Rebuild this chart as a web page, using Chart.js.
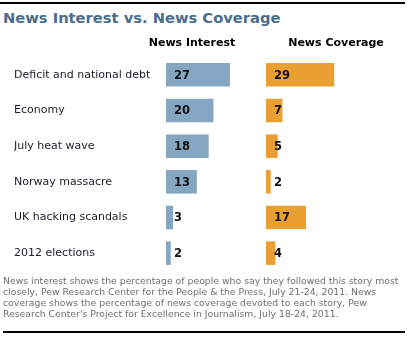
<!DOCTYPE html>
<html>
<head>
<meta charset="utf-8">
<script src="https://cdn.jsdelivr.net/npm/chart.js@4.4.0/dist/chart.umd.min.js"></script>
<style>
  html, body { margin: 0; padding: 0; background: #fff; }
  #wrap { position: relative; width: 408px; height: 337px; overflow: hidden; }
  #chart { position: absolute; left: 0; top: 0; }
  .rule { position: absolute; height: 2px; background: #000; }
  #heading {
    position: absolute; left: 3px; top: 9px; margin: 0;
    font: bold 14.7px "DejaVu Sans", Verdana, sans-serif; color: #4b6d8d;
    white-space: nowrap;
  }
  #note {
    position: absolute; left: 3px; top: 275px; margin: 0;
    font: 9.3px "DejaVu Sans", Verdana, sans-serif; line-height: 11px; color: #6f6f6f;
    white-space: nowrap;
  }
</style>
</head>
<body>
<div id="wrap">
  <div class="rule" style="left:0;top:2px;width:405px"></div>
  <h1 id="heading">News Interest vs. News Coverage</h1>
  <canvas id="chart" width="408" height="337"></canvas>
  <p id="note">News interest shows the percentage of people who say they followed this story most<br>closely, Pew Research Center for the People &amp; the Press, July 21-24, 2011. News<br>coverage shows the percentage of news coverage devoted to each story, Pew<br>Research Center's Project for Excellence in Journalism, July 18-24, 2011.</p>
  <div class="rule" style="left:3px;top:331px;width:402px"></div>
</div>
<script>
const stories = ['Deficit and national debt', 'Economy', 'July heat wave', 'Norway massacre', 'UK hacking scandals', '2012 elections'];
const newsInterest = [27, 20, 18, 13, 3, 2];
const newsCoverage = [29, 7, 5, 2, 17, 4];
const columnTitles = ['News Interest', 'News Coverage'];

const fontFamily = '"DejaVu Sans", Verdana, sans-serif';

// column headings above each set of bars
const columnHeads = {
    id: 'columnHeads',
    afterDraw(chart) {
        const ctx = chart.ctx;
        ctx.save();
        ctx.font = 'bold 11px ' + fontFamily;
        ctx.fillStyle = '#000';
        ctx.textAlign = 'center';
        ctx.textBaseline = 'middle';
        ctx.fillText(columnTitles[0], chart.scales.x.left + 26, 43);
        ctx.fillText(columnTitles[1], chart.scales.x2.left + 70, 43);
        ctx.restore();
    }
};

// value printed near the start of every bar
const barValues = {
    id: 'barValues',
    afterDatasetsDraw(chart) {
        const ctx = chart.ctx;
        ctx.save();
        ctx.font = 'bold 11.5px ' + fontFamily;
        ctx.fillStyle = '#111';
        ctx.textAlign = 'left';
        ctx.textBaseline = 'middle';
        chart.data.datasets.forEach(function (ds, i) {
            chart.getDatasetMeta(i).data.forEach(function (bar, j) {
                ctx.fillText(ds.data[j], bar.base + 8, bar.y + 1);
            });
        });
        ctx.restore();
    }
};

new Chart(document.getElementById('chart'), {
    type: 'bar',
    data: {
        labels: stories,
        datasets: [{
            label: columnTitles[0],
            data: newsInterest,
            backgroundColor: '#85a6c1',
            xAxisID: 'x'
        }, {
            label: columnTitles[1],
            data: newsCoverage,
            backgroundColor: '#e99f31',
            xAxisID: 'x2'
        }]
    },
    options: {
        indexAxis: 'y',
        responsive: false,
        animation: false,
        events: [],
        grouped: false,
        barPercentage: 0.66,
        categoryPercentage: 1,
        layout: { padding: { left: 14, right: 3, top: 57, bottom: 58 } },
        scales: {
            y: {
                grid: { display: false },
                border: { display: false },
                ticks: {
                    crossAlign: 'far',
                    color: '#1c1c2c',
                    font: { family: fontFamily, size: 11 }
                },
                afterFit: function (scale) { scale.width = 152; }
            },
            x: {
                position: 'bottom',
                stack: 'cols',
                stackWeight: 100,
                min: 0,
                max: 42.2,
                grid: { display: false },
                border: { display: false },
                ticks: { display: false }
            },
            x2: {
                position: 'bottom',
                stack: 'cols',
                stackWeight: 139,
                min: 0,
                max: 59.1,
                grid: { display: false },
                border: { display: false },
                ticks: { display: false }
            }
        },
        plugins: {
            legend: { display: false },
            tooltip: { enabled: false }
        }
    },
    plugins: [columnHeads, barValues]
});
</script>
</body>
</html>
